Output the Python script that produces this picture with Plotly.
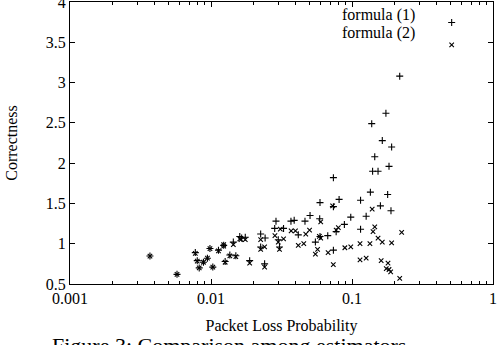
import plotly.graph_objects as go

# formula (1) data (packet loss probability, correctness)
f1_x = [0.00369, 0.00574, 0.00774, 0.00799, 0.00825, 0.00884, 0.00943, 0.00983, 0.0103, 0.0113,
        0.0123, 0.0126, 0.0136, 0.0144, 0.0150, 0.0160, 0.0165, 0.0175, 0.0188, 0.0225,
        0.0225, 0.0242, 0.0240, 0.0283, 0.0300, 0.0306, 0.0327, 0.0289, 0.0369, 0.0389,
        0.0416, 0.0464, 0.0504, 0.0550, 0.0593, 0.0590, 0.0593, 0.0673, 0.0738, 0.0738,
        0.0738, 0.0772, 0.0810, 0.0883, 0.0980, 0.1150, 0.1150, 0.1260, 0.1350, 0.1380,
        0.1400, 0.1450, 0.1530, 0.1590, 0.1640, 0.1740, 0.1790, 0.1830, 0.1890, 0.1910,
        0.2180]
f1_y = [0.847, 0.62, 0.89, 0.79, 0.70, 0.77, 0.82, 0.94, 0.71, 0.92,
        0.98, 0.78, 0.86, 1.02, 0.85, 1.09, 1.07, 1.08, 0.79, 1.12,
        0.96, 1.07, 0.75, 1.19, 1.05, 0.96, 1.19, 1.28, 1.28, 1.29,
        1.11, 1.28, 1.35, 1.02, 1.51, 1.31, 1.09, 1.10, 1.82, 0.92,
        1.46, 1.15, 1.55, 1.24, 1.33, 1.54, 1.18, 1.34, 1.64, 2.49,
        1.90, 2.08, 1.90, 1.47, 2.28, 2.62, 1.61, 1.96, 1.41, 2.20,
        3.08]

# formula (2) data
f2_x = [0.00369, 0.00574, 0.00774, 0.00799, 0.00825, 0.00884, 0.00943, 0.00983, 0.0103, 0.0113,
        0.0123, 0.0123, 0.0126, 0.0136, 0.0144, 0.0150, 0.0160, 0.0163, 0.0175, 0.0188,
        0.0225, 0.0225, 0.0240, 0.0240, 0.0284, 0.0300, 0.0306, 0.0327, 0.0310, 0.0370,
        0.0397, 0.0416, 0.0455, 0.0470, 0.0500, 0.0550, 0.0570, 0.0587, 0.0600, 0.0600,
        0.0677, 0.0729, 0.0737, 0.0772, 0.0800, 0.0890, 0.0980, 0.1140, 0.1140, 0.1260,
        0.1340, 0.1390, 0.1410, 0.1450, 0.1530, 0.1610, 0.1640, 0.1750, 0.1800, 0.1830,
        0.1880, 0.1910, 0.2180, 0.2250]
f2_y = [0.847, 0.62, 0.88, 0.785, 0.70, 0.77, 0.82, 0.94, 0.71, 0.91,
        0.97, 0.99, 0.77, 0.85, 0.99, 0.84, 1.06, 1.05, 1.05, 0.76,
        1.05, 0.93, 0.96, 0.71, 1.10, 1.02, 0.93, 1.06, 1.18, 1.16,
        1.16, 0.98, 1.00, 1.12, 1.17, 0.87, 0.93, 1.09, 1.07, 1.27,
        0.89, 1.47, 0.74, 1.17, 1.20, 0.95, 0.96, 1.00, 0.80, 0.82,
        1.00, 1.43, 1.15, 1.21, 1.07, 0.79, 1.02, 0.69, 0.76, 0.68,
        0.65, 1.01, 0.57, 1.14]

series_names = ["formula (1)", "formula (2)"]
x_ticks = [0.001, 0.01, 0.1, 1]
x_ticktext = ["0.001", "0.01", "0.1", "1"]
x_minor = [m * d for d in [0.001, 0.01, 0.1] for m in range(2, 10)]
y_ticks = [0.5, 1, 1.5, 2, 2.5, 3, 3.5, 4]
y_ticktext = ["0.5", "1", "1.5", "2", "2.5", "3", "3.5", "4"]

FONT = "Liberation Serif"

fig = go.Figure()
fig.add_trace(go.Scatter(x=f1_x, y=f1_y, mode="markers", name="",
                         marker=dict(symbol="cross-thin-open", size=5, color="black",
                                     line=dict(width=1.1, color="black"))))
fig.add_trace(go.Scatter(x=f2_x, y=f2_y, mode="markers", name=" ",
                         marker=dict(symbol="x-thin-open", size=4.5, color="black",
                                     line=dict(width=1.1, color="black"))))

axis_common = dict(showgrid=False, zeroline=False, showline=True, linecolor="black",
                   linewidth=1, mirror="allticks", ticks="inside", ticklen=5,
                   tickcolor="black", ticklabeloverflow="allow",
                   tickfont=dict(family=FONT, size=16, color="black"))

fig.update_xaxes(type="log", range=[-3, 0], tickvals=x_ticks, ticktext=x_ticktext,
                 title=dict(text="Packet Loss Probability", font=dict(family=FONT, size=16, color="black"),
                            standoff=13),
                 minor=dict(ticks="inside", ticklen=3, tickcolor="black", showgrid=False,
                            tickvals=x_minor),
                 **axis_common)
fig.update_yaxes(range=[0.5, 4], tickvals=y_ticks, ticktext=y_ticktext,
                 title=dict(text="Correctness", font=dict(family=FONT, size=16, color="black"),
                            standoff=24),
                 **axis_common)

fig.update_layout(
    width=498, height=345,
    margin=dict(l=70, r=5, t=2, b=61, autoexpand=False),
    paper_bgcolor="white", plot_bgcolor="white",
    font=dict(family=FONT, color="black"),
    showlegend=True,
    legend=dict(x=0.855, y=0.985, xanchor="left", yanchor="top",
                bgcolor="rgba(0,0,0,0)", font=dict(family=FONT, size=15),
                itemwidth=30, tracegroupgap=0),
)

# legend labels (gnuplot style: text left of the sample)
for i, name in enumerate(series_names):
    fig.add_annotation(text=name, xref="paper", yref="paper",
                       x=(417 - 70) / 423, y=1 - (15 + 18 * i - 2) / 282,
                       xanchor="right", yanchor="middle", showarrow=False,
                       font=dict(family=FONT, size=16, color="black"))

# figure caption (cut off at bottom, as in the source page)
fig.add_annotation(text="Figure 3: Comparison among estimators", xref="paper", yref="paper",
                   x=-20 / 423, y=-(331 - 284) / 282, xanchor="left", yanchor="top",
                   showarrow=False, font=dict(family=FONT, size=22, color="black"))

fig.write_html("out.html")
